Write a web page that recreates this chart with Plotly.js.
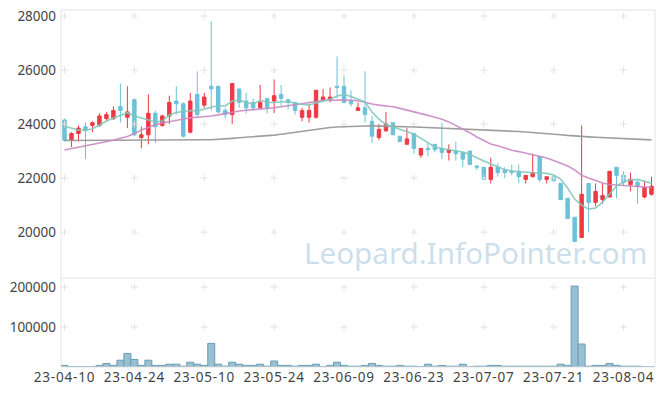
<!DOCTYPE html>
<html><head><meta charset="utf-8">
<script src="https://cdn.plot.ly/plotly-3.0.1.min.js"></script>
<style>html,body{margin:0;padding:0;background:#fff}#c{width:665px;height:396px}
.xtick text{letter-spacing:0.8px}</style>
</head><body><div id="c"></div>
<script>
const dates = ["23-04-10","23-04-11","23-04-12","23-04-13","23-04-14","23-04-17","23-04-18","23-04-19","23-04-20","23-04-21",
"23-04-24","23-04-25","23-04-26","23-04-27","23-04-28","23-05-02","23-05-03","23-05-04","23-05-08","23-05-09",
"23-05-10","23-05-11","23-05-12","23-05-15","23-05-16","23-05-17","23-05-18","23-05-19","23-05-22","23-05-23",
"23-05-24","23-05-25","23-05-26","23-05-30","23-05-31","23-06-01","23-06-02","23-06-05","23-06-07","23-06-08",
"23-06-09","23-06-12","23-06-13","23-06-14","23-06-15","23-06-16","23-06-19","23-06-20","23-06-21","23-06-22",
"23-06-23","23-06-26","23-06-27","23-06-28","23-06-29","23-06-30","23-07-03","23-07-04","23-07-05","23-07-06",
"23-07-07","23-07-10","23-07-11","23-07-12","23-07-13","23-07-14","23-07-17","23-07-18","23-07-19","23-07-20",
"23-07-21","23-07-24","23-07-25","23-07-26","23-07-27","23-07-28","23-07-31","23-08-01","23-08-02","23-08-03",
"23-08-04","23-08-07","23-08-08","23-08-09","23-08-10"];

const openP = [24150,23400,23650,23900,23950,23950,24200,24200,24650,24250,
24900,23500,23600,24400,23950,24300,24850,24750,23700,25100,
24700,25400,25400,24500,24350,25300,24850,24800,24600,24950,
24850,25100,24900,24800,24250,24250,24250,24900,24900,25400,
25400,24850,24500,24600,24100,23500,23750,24050,23550,23250,
23650,22850,23100,23250,23100,22950,23000,22950,23000,22450,
22400,21950,22400,22300,22250,22250,21950,22050,22800,21950,
22050,21800,21250,20550,19800,21800,21100,21200,21300,22400,
22100,21750,21850,21300,21400];
const highP = [24200,23700,23950,24050,24100,24400,24450,24650,25500,25400,
24950,23900,25100,24500,24350,25050,25400,24800,25150,25950,
25150,27800,25400,24600,25500,25300,25150,24950,25450,24950,
25650,25450,24900,24800,24600,24750,25250,25300,25350,26500,
25800,25250,24800,25950,24300,24000,24450,24050,23550,23850,
23650,23100,23300,23250,24050,23250,23350,22950,23000,22450,
22400,22750,22550,22400,22500,22500,22100,22900,22800,22050,
22150,21800,21250,20550,23950,21800,21800,21800,22250,22400,
22250,22200,21900,21900,22050];
const lowP = [23350,23150,23350,22700,23700,23900,24100,24150,24050,23850,
23550,23100,23250,23300,23900,24000,24350,23500,23650,24250,
24600,24500,24400,24200,24000,24600,24400,24500,24550,24400,
24400,24650,24550,24350,24100,24050,24200,24850,24800,24950,
24800,24650,24500,24050,23300,23400,23700,23600,23350,23250,
22900,22750,22800,22950,22700,22650,22650,22400,22500,22300,
21950,21800,22050,22000,22100,21800,21800,22050,21850,21800,
21850,21200,20500,19650,19800,20000,20950,21050,21300,21250,
21700,21500,21050,21250,21350];
const closeP = [23400,23650,23850,23750,24050,24300,24350,24500,24500,24450,
23600,23600,24400,23900,24300,24800,24750,23550,24850,24350,
25000,25300,24450,24350,25500,24800,24600,24600,24800,24600,
25050,24950,24800,24500,24500,24500,25250,25000,25000,25350,
24800,24750,24600,24350,23550,23800,24000,23600,23350,23450,
23100,23100,23050,23050,22950,23050,22900,22700,22500,22400,
21950,22400,22200,22200,22200,22050,22100,22200,21950,22050,
21900,21200,20500,19650,21400,21100,21500,21350,22250,22100,
21850,21950,21700,21650,21700];

const ma5 = [23915,23834,23778,23778,23815,23963,24111,24222,24333,24419,
24296,24222,24148,24074,24111,24333,24426,24463,24500,24489,
24556,24630,24685,24667,24852,24889,24796,24741,24889,24796,
24796,24826,24826,24778,24722,24704,24778,24863,24915,25037,
25093,25019,24926,24815,24444,24185,23981,23900,23815,23715,
23630,23471,23296,23148,23093,23056,23019,22963,22870,22741,
22630,22519,22426,22315,22259,22233,22204,22196,22185,22174,
22111,21963,21630,21222,21000,20852,20889,21111,21407,21704,
21852,21926,21952,21889,21804];
const ma20 = [23040,23090,23140,23190,23240,23290,23340,23400,23470,23540,
23650,23780,23870,23970,24040,24090,24140,24190,24230,24250,
24270,24300,24340,24390,24440,24480,24510,24530,24550,24560,
24600,24640,24680,24720,24760,24800,24850,24870,24880,24890,
24890,24880,24860,24810,24740,24700,24680,24640,24580,24520,
24450,24390,24320,24250,24180,24080,23950,23820,23680,23520,
23380,23260,23200,23120,23030,22980,22920,22860,22810,22740,
22650,22560,22450,22300,22100,22000,21900,21820,21760,21740,
21720,21700,21690,21670,21650];
const ma60 = [23390,23390,23392,23394,23395,23397,23398,23400,23401,23402,
23403,23404,23405,23406,23407,23408,23409,23410,23412,23414,
23416,23420,23430,23445,23470,23490,23505,23520,23537,23560,
23590,23625,23660,23700,23740,23778,23810,23840,23870,23890,
23905,23915,23925,23930,23933,23930,23926,23920,23910,23900,
23890,23880,23870,23860,23850,23841,23832,23824,23815,23806,
23796,23785,23770,23755,23740,23722,23705,23690,23672,23655,
23630,23605,23580,23555,23537,23525,23512,23500,23494,23489,
23480,23465,23450,23432,23415];

const volume = [4000,1000,1000,1000,1000,4000,9000,4000,17000,34000,
19000,4000,17000,4000,4000,7000,7000,2000,12000,7000,
4000,59000,7000,2000,12000,7000,4000,4000,7000,2000,
15000,4000,4000,2000,4000,4000,7000,500,4000,12000,
4000,2000,2000,4000,9000,4000,2000,2000,4000,2000,
2000,500,7000,2000,4000,2000,2000,7000,500,2000,
2000,4000,4000,2000,2000,2000,2000,2000,2000,2000,
2000,7000,4000,202500,57500,2000,4000,4000,9000,4000,
2000,2000,2000,0,0];

const priceTicks = [20000,22000,24000,26000,28000];
const volTicks = [100000,200000];
const xTickDates = dates.filter((d,i)=>i%10===0);

const gridX1=[],gridY1=[],gridX2=[],gridY2=[];
xTickDates.forEach(d=>{priceTicks.forEach(p=>{gridX1.push(d);gridY1.push(p);});
                      volTicks.forEach(v=>{gridX2.push(d);gridY2.push(v);});});

const UP='#ee3a44', DOWN='#6cc2d8';
const traces = [
 {type:'candlestick',x:dates,open:openP,high:highP,low:lowP,close:closeP,yaxis:'y',xaxis:'x',
  increasing:{line:{color:UP,width:1},fillcolor:UP},
  decreasing:{line:{color:DOWN,width:1},fillcolor:DOWN},showlegend:false,hoverinfo:'skip'},
 {type:'scatter',mode:'markers',x:gridX1,y:gridY1,yaxis:'y',xaxis:'x',hoverinfo:'skip',showlegend:false,
  marker:{symbol:'cross-thin',size:5,line:{color:'#e2e2e2',width:1}}},
 {type:'scatter',mode:'markers',x:gridX2,y:gridY2,yaxis:'y2',xaxis:'x',hoverinfo:'skip',showlegend:false,
  marker:{symbol:'cross-thin',size:5,line:{color:'#e2e2e2',width:1}}},
 {type:'scatter',mode:'lines',x:dates,y:ma60,yaxis:'y',line:{color:'#999999',width:1.6},opacity:0.95,showlegend:false,hoverinfo:'skip'},
 {type:'scatter',mode:'lines',x:dates,y:ma20,yaxis:'y',line:{color:'#c98ac3',width:1.6},opacity:0.9,showlegend:false,hoverinfo:'skip'},
 {type:'scatter',mode:'lines',x:dates,y:ma5,yaxis:'y',line:{color:'#7fc9ba',width:1.6},opacity:0.9,showlegend:false,hoverinfo:'skip'},
 {type:'bar',x:dates,y:volume,yaxis:'y2',xaxis:'x',marker:{color:'#98c0d2',line:{color:'#6b9cb4',width:1}},showlegend:false,hoverinfo:'skip'}
];

const font = {family:'Noto Sans, sans-serif',size:13.5,color:'#444'};
const layout = {
 width:665,height:396,margin:{l:61,r:10,t:10,b:29},
 paper_bgcolor:'#fff',plot_bgcolor:'#fff',font:font,bargap:0,showlegend:false,
 xaxis:{type:'category',categoryorder:'array',categoryarray:dates,range:[-0.5,84.5],anchor:'y2',
   tickmode:'array',tickvals:xTickDates,ticktext:xTickDates,
   showgrid:false,zeroline:false,showline:false,ticks:'',tickfont:font,rangeslider:{visible:false},fixedrange:true},
 yaxis:{domain:[0.249,1],range:[18296,28222],tickmode:'array',tickvals:priceTicks,ticktext:priceTicks.map(String),
   showgrid:false,zeroline:false,showline:false,ticks:'',ticklabelstandoff:4,tickfont:font},
 yaxis2:{domain:[0,0.249],range:[0,222500],tickmode:'array',tickvals:volTicks,ticktext:volTicks.map(String),
   showgrid:false,zeroline:false,showline:false,ticks:'',ticklabelstandoff:4,tickfont:font},
 shapes:[
  {type:'rect',xref:'paper',yref:'paper',x0:0,x1:1,y0:0,y1:1,line:{color:'#e3e3e3',width:1}},
  {type:'line',xref:'paper',yref:'paper',x0:0,x1:1,y0:0.249,y1:0.249,line:{color:'#e3e3e3',width:1}}
 ],
 annotations:[{text:'Leopard.InfoPointer.com',xref:'paper',yref:'paper',x:0.697,y:0.32,showarrow:false,
   xanchor:'center',yanchor:'middle',font:{family:'Noto Sans, sans-serif',size:29.6,color:'rgba(160,195,218,0.55)'}}]
};
Plotly.newPlot('c',traces,layout,{staticPlot:true,displayModeBar:false});
</script></body></html>
